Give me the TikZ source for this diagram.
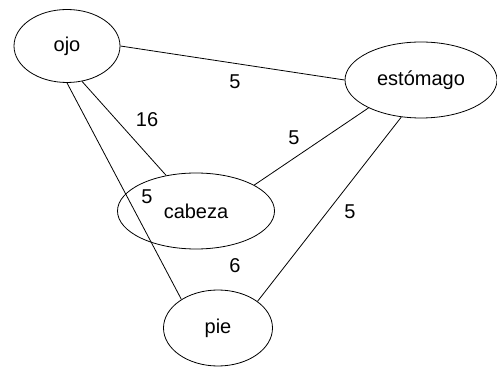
\documentclass[tikz,border=0pt]{standalone}
\usepackage{fontspec}
\setmainfont{Liberation Sans}
\usetikzlibrary{shapes.geometric}
\begin{document}
\begin{tikzpicture}[x=0.5pt,y=-0.5pt,
	organo/.style={draw, ellipse, inner sep=0pt, font=\fontsize{10}{12}\selectfont},
	peso/.style={font=\fontsize{10}{12}\selectfont}]
	\useasboundingbox (0,0) rectangle (497,368);
	\node [organo, minimum width=53pt, minimum height=36.5pt] (ojo) at (67,46) {ojo};
	\node [organo, minimum width=76pt, minimum height=38pt] (estomago) at (421,80) {estómago};
	\node [organo, minimum width=78.5pt, minimum height=38pt] (cabeza) at (196,211) {cabeza};
	\node [organo, minimum width=54.5pt, minimum height=38pt] (pie) at (218,328) {pie};
	\draw (ojo.east) -- (estomago.west);
	\draw (ojo.-67) -- (cabeza.130);
	\draw (ojo.south) -- (pie.142);
	\draw (estomago.-152) -- (cabeza.24);
	\draw (estomago.-118) -- (pie.34);
	\node [peso] (w-oe) at (235,82) {5};
	\node [peso] (w-oc) at (147,120) {16};
	\node [peso] (w-ec) at (294,138) {5};
	\node [peso] (w-ep) at (350,212) {5};
	\node [peso] (w-op) at (147,197) {5};
	\node [peso] (w-cp) at (235,266) {6};
\end{tikzpicture}
\end{document}
